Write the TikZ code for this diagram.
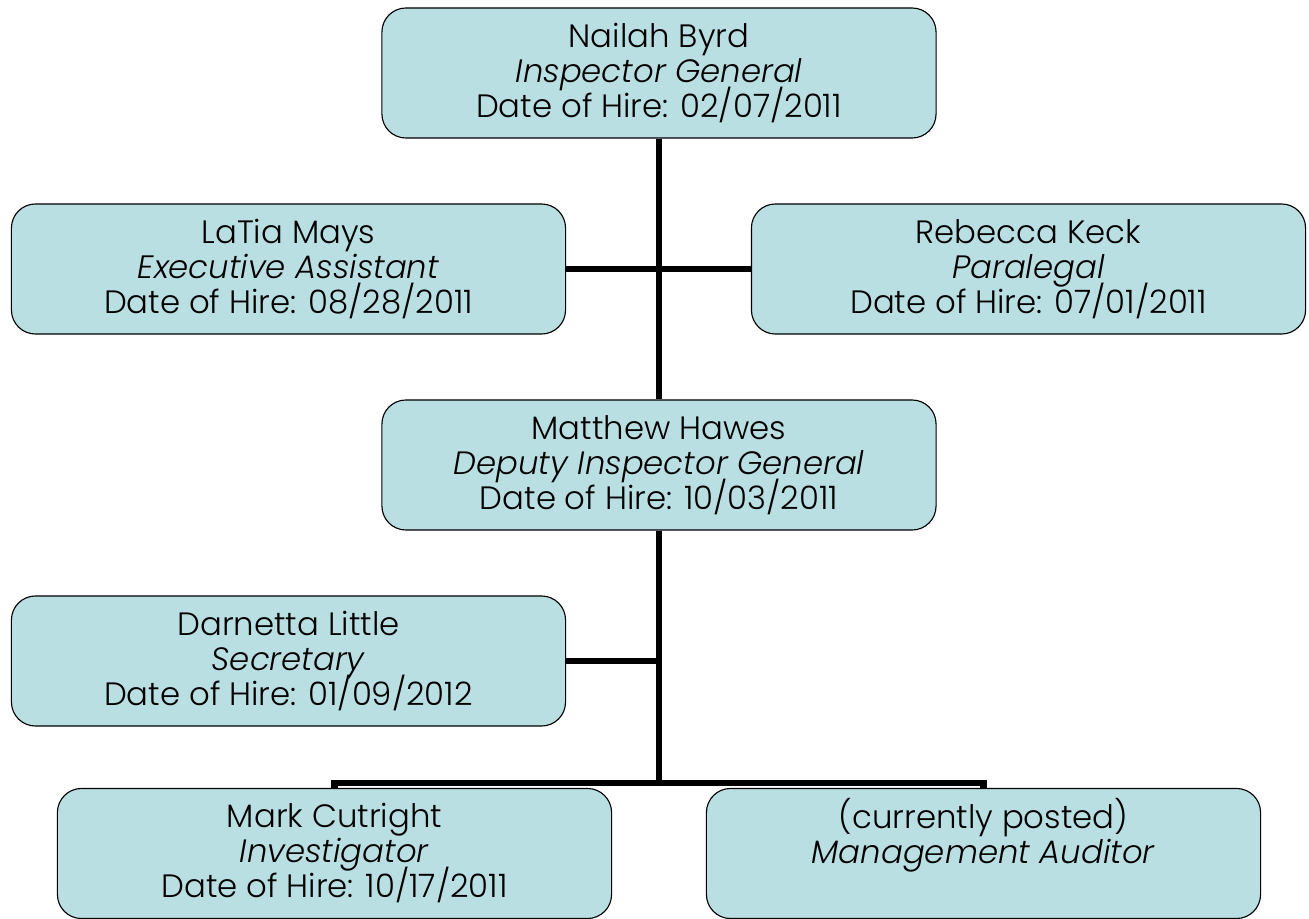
\documentclass[tikz,border=0pt]{standalone}
\usepackage{fontspec}
\setmainfont{Poppins}[UprightFont=* Light,ItalicFont=* Light Italic]
\usetikzlibrary{positioning,calc}
\definecolor{orgFill}{HTML}{B9DFE3}
\newcommand\orgfont{\fontsize{23}{24.9}\selectfont\setlength{\lineskiplimit}{-30pt}}

\begin{document}
\begin{tikzpicture}[x=0.025cm,y=-0.025cm,font=\orgfont,
    orgbox/.style={draw=black,fill=orgFill,line width=0.8pt,rounded corners=0.6cm,
                  minimum width=13.85cm,minimum height=3.25cm,align=center,inner sep=0pt},
    link/.style={black,line width=4.3pt}]
  \useasboundingbox (0,0) rectangle (1309,919);
  % boxes
  \node[orgbox] (byrd)     at (659,73)   {Nailah Byrd\\\textit{Inspector General}\\Date of Hire: 02/07/2011};
  \node[orgbox] (mays)     at (288.5,269) {LaTia Mays\\\textit{Executive Assistant}\\Date of Hire: 08/28/2011};
  \node[orgbox] (keck)     at (1028.5,269) {Rebecca Keck\\\textit{Paralegal}\\Date of Hire: 07/01/2011};
  \node[orgbox] (hawes)    at (659,465)  {Matthew Hawes\\\textit{Deputy Inspector General}\\Date of Hire: 10/03/2011};
  \node[orgbox] (little)   at (288.5,661) {Darnetta Little\\\textit{Secretary}\\Date of Hire: 01/09/2012};
  \node[orgbox] (cutright) at (334.5,853.5) {Mark Cutright\\\textit{Investigator}\\Date of Hire: 10/17/2011};
  \node[orgbox] (posted)   at (983.5,853.5) {(currently posted)\\\textit{Management Auditor}\\\strut};
  % lines
  \coordinate (bar) at (659,783);
  \draw[link] (byrd.south) -- (hawes.north);
  \draw[link] (mays.east) -- (keck.west);
  \draw[link] (hawes.south) -- (bar);
  \draw[link] (little.east) -- (little.east -| bar);
  \draw[link] (cutright.north) -- (cutright.north |- bar) -| (posted.north);
\end{tikzpicture}
\end{document}
